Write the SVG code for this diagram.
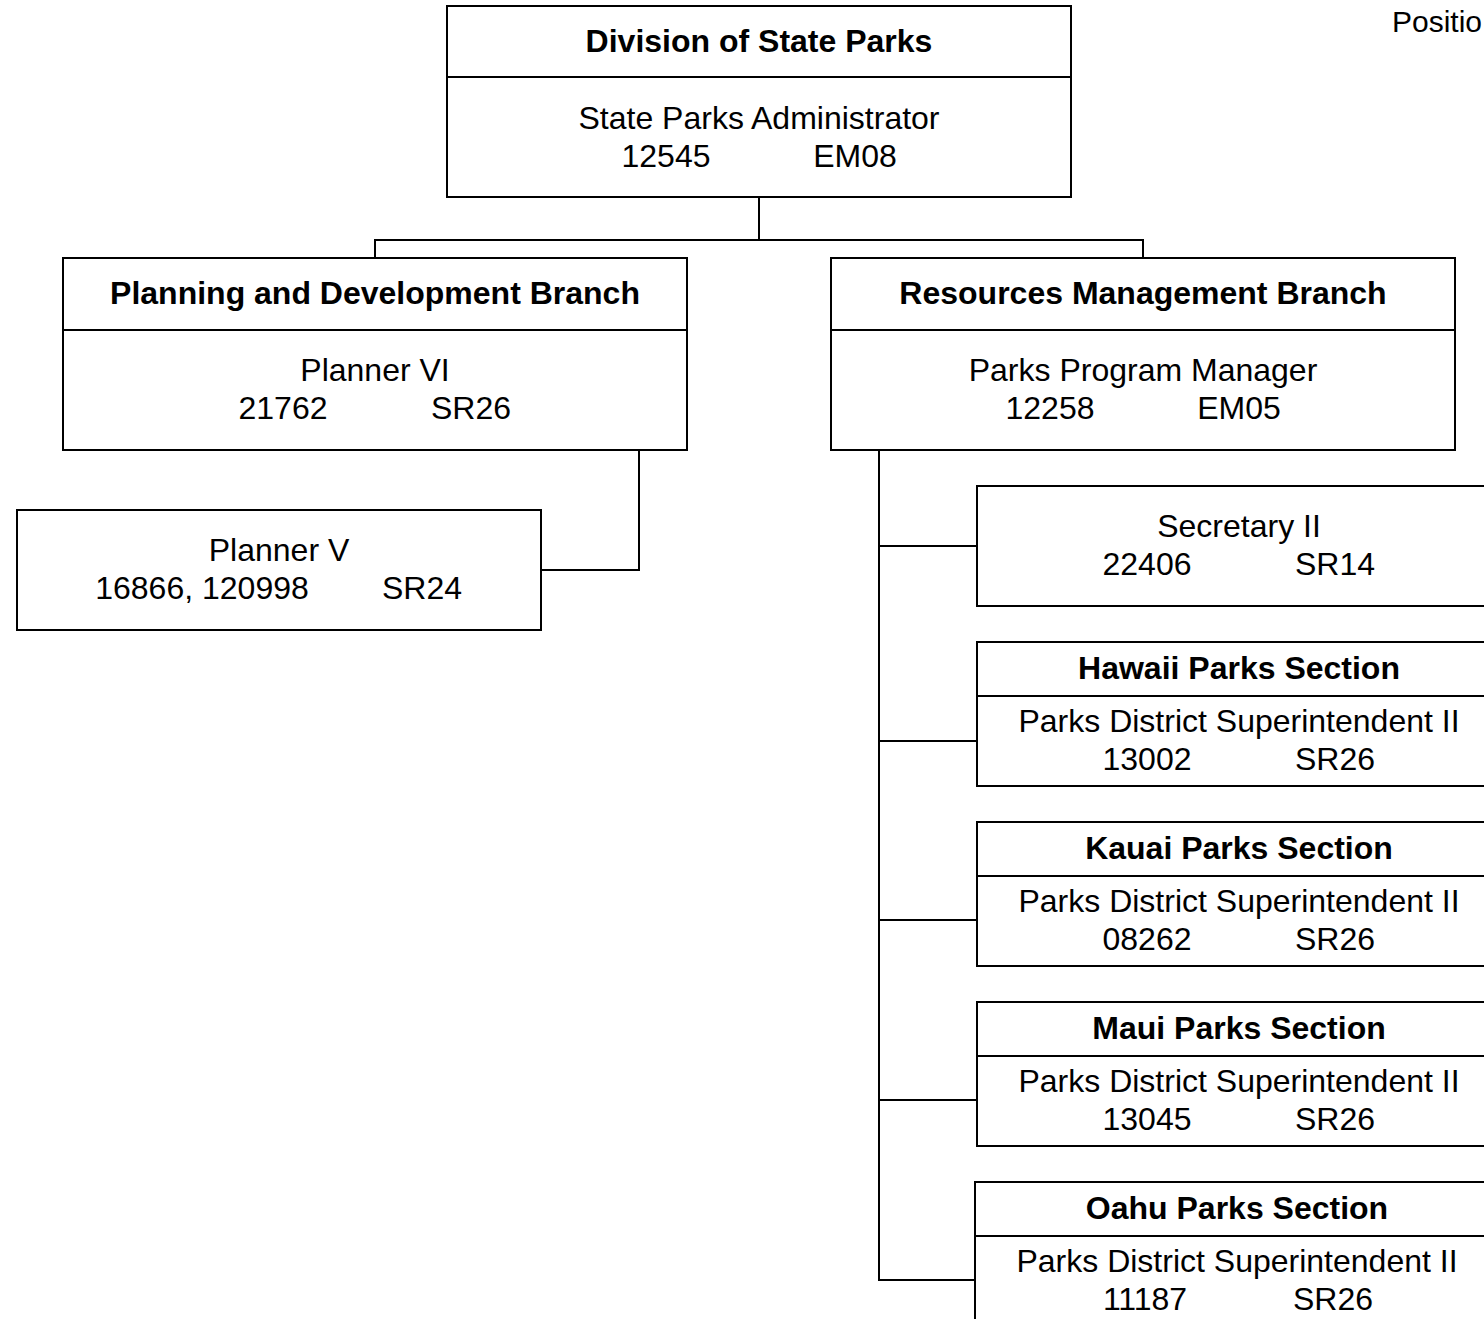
<svg xmlns="http://www.w3.org/2000/svg" width="1484" height="1319" viewBox="0 0 1484 1319">
<style>
.box{fill:#fff;stroke:#000;stroke-width:2}
.div{stroke:#000;stroke-width:2}
.conn{fill:none;stroke:#000;stroke-width:2}
text{font-family:"Liberation Sans",Arial,sans-serif;font-size:32px;fill:#000;text-anchor:middle}
.b{font-weight:bold}
</style>
<rect width="1484" height="1319" fill="#fff"/>
<text x="1392" y="32" style="text-anchor:start;font-size:30px">Positio</text>
<g id="connectors">
<path class="conn" d="M759 197V240M375 258V240H1143V258"/>
<path class="conn" d="M639 450V570H541"/>
<path class="conn" d="M879 450V1280H975M879 546H977M879 741H977M879 920H977M879 1100H977"/>
</g>
<g id="division">
<rect class="box" x="447" y="6" width="624" height="191"/>
<line class="div" x1="447" y1="77" x2="1071" y2="77"/>
<text class="b" x="759" y="52">Division of State Parks</text>
<text x="759" y="129">State Parks Administrator</text>
<text x="666" y="167">12545</text>
<text x="855" y="167">EM08</text>
</g>
<g id="planning">
<rect class="box" x="63" y="258" width="624" height="192"/>
<line class="div" x1="63" y1="330" x2="687" y2="330"/>
<text class="b" x="375" y="304">Planning and Development Branch</text>
<text x="375" y="381">Planner VI</text>
<text x="283" y="419">21762</text>
<text x="471" y="419">SR26</text>
</g>
<g id="resources">
<rect class="box" x="831" y="258" width="624" height="192"/>
<line class="div" x1="831" y1="330" x2="1455" y2="330"/>
<text class="b" x="1143" y="304">Resources Management Branch</text>
<text x="1143" y="381">Parks Program Manager</text>
<text x="1050" y="419">12258</text>
<text x="1239" y="419">EM05</text>
</g>
<g id="planner5">
<rect class="box" x="17" y="510" width="524" height="120"/>
<text x="279" y="561">Planner V</text>
<text x="202" y="599">16866, 120998</text>
<text x="422" y="599">SR24</text>
</g>
<g id="secretary">
<rect class="box" x="977" y="486" width="524" height="120"/>
<text x="1239" y="537">Secretary II</text>
<text x="1147" y="575">22406</text>
<text x="1335" y="575">SR14</text>
</g>
<g id="hawaii">
<rect class="box" x="977" y="642" width="524" height="144"/>
<line class="div" x1="977" y1="696" x2="1501" y2="696"/>
<text class="b" x="1239" y="679">Hawaii Parks Section</text>
<text x="1239" y="732">Parks District Superintendent II</text>
<text x="1147" y="770">13002</text>
<text x="1335" y="770">SR26</text>
</g>
<g id="kauai">
<rect class="box" x="977" y="822" width="524" height="144"/>
<line class="div" x1="977" y1="876" x2="1501" y2="876"/>
<text class="b" x="1239" y="859">Kauai Parks Section</text>
<text x="1239" y="912">Parks District Superintendent II</text>
<text x="1147" y="950">08262</text>
<text x="1335" y="950">SR26</text>
</g>
<g id="maui">
<rect class="box" x="977" y="1002" width="524" height="144"/>
<line class="div" x1="977" y1="1056" x2="1501" y2="1056"/>
<text class="b" x="1239" y="1039">Maui Parks Section</text>
<text x="1239" y="1092">Parks District Superintendent II</text>
<text x="1147" y="1130">13045</text>
<text x="1335" y="1130">SR26</text>
</g>
<g id="oahu">
<rect class="box" x="975" y="1182" width="524" height="160"/>
<line class="div" x1="975" y1="1236" x2="1499" y2="1236"/>
<text class="b" x="1237" y="1219">Oahu Parks Section</text>
<text x="1237" y="1272">Parks District Superintendent II</text>
<text x="1145" y="1310">11187</text>
<text x="1333" y="1310">SR26</text>
</g>
</svg>
